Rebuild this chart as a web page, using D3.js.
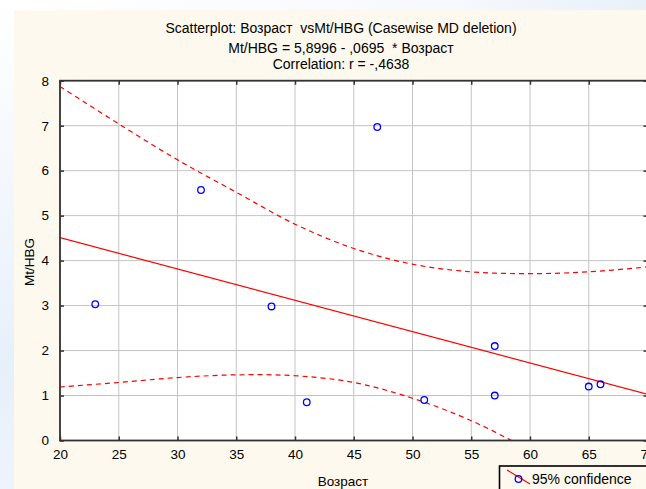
<!DOCTYPE html>
<html>
<head>
<meta charset="utf-8">
<script src="https://cdn.jsdelivr.net/npm/d3@7"></script>
<style>
  body { margin: 0; background: #ffffff; }
  svg { display: block; font-family: "Liberation Sans", Arial, sans-serif; }
  text.keep { white-space: pre; }
</style>
</head>
<body>
<script>
// data
const ages = [23, 32, 38, 41, 47, 51, 57, 57, 65, 66];
const mtHbg = [3.03, 5.57, 2.98, 0.85, 6.97, 0.90, 2.10, 1.00, 1.20, 1.25];

// fitted line end points
const fitX = [20, 70];
const fitY = [4.51, 1.03];

// 95% confidence band
const bandX = [20, 25, 30, 35, 40, 45, 50, 55, 60, 65, 70];
const upperCI = [7.87, 7.04, 6.24, 5.52, 4.81, 4.27, 3.92, 3.75, 3.71, 3.75, 3.86];
const lowerCI = [1.19, 1.29, 1.40, 1.46, 1.44, 1.29, 0.94, 0.44, -0.22, -0.95, -1.80];

const xTicks = [20, 25, 30, 35, 40, 45, 50, 55, 60, 65, 70];
const yTicks = [0, 1, 2, 3, 4, 5, 6, 7, 8];

const titleLines = [
  'Scatterplot: Возраст  vsMt/HBG (Casewise MD deletion)',
  'Mt/HBG = 5,8996 - ,0695  * Возраст',
  'Correlation: r = -,4638'
];

const W = 646, H = 489;
const svg = d3.select('body').append('svg')
    .attr('width', W)
    .attr('height', H);

// page background: soft blue strip on the left, cream panel
const defs = svg.append('defs');
const grad = defs.append('linearGradient')
    .attr('id', 'pageGrad')
    .attr('x1', 0).attr('y1', 0).attr('x2', 0).attr('y2', 1);
grad.append('stop').attr('offset', '0%').attr('stop-color', '#ffffff');
grad.append('stop').attr('offset', '45%').attr('stop-color', '#f1f6fc');
grad.append('stop').attr('offset', '75%').attr('stop-color', '#e6f0fa');
grad.append('stop').attr('offset', '100%').attr('stop-color', '#eef4fb');

const topGrad = defs.append('linearGradient')
    .attr('id', 'topGrad')
    .attr('x1', 0).attr('y1', 0).attr('x2', 1).attr('y2', 0);
topGrad.append('stop').attr('offset', '0%').attr('stop-color', '#ffffff');
topGrad.append('stop').attr('offset', '70%').attr('stop-color', '#f6f9fd');
topGrad.append('stop').attr('offset', '100%').attr('stop-color', '#e8f0fa');

svg.append('rect').attr('width', W).attr('height', H).attr('fill', 'url(#pageGrad)');
svg.append('rect').attr('x', 14).attr('width', W - 14).attr('height', 10).attr('fill', 'url(#topGrad)');
svg.append('rect')
    .attr('x', 14).attr('y', 10)
    .attr('width', W - 14).attr('height', H - 10)
    .attr('fill', '#fdf9ee');

const pLeft = 60, pRight = 647.5, pTop = 80.7, pBottom = 440.5;

const x = d3.scaleLinear().domain([20, 70]).range([pLeft, pRight]);
const y = d3.scaleLinear().domain([0, 8]).range([pBottom, pTop]);

// plot area
svg.append('rect')
    .attr('x', pLeft).attr('y', pTop)
    .attr('width', pRight - pLeft).attr('height', pBottom - pTop)
    .attr('fill', '#ffffff');

defs.append('clipPath').attr('id', 'plotClip')
  .append('rect')
    .attr('x', pLeft).attr('y', pTop)
    .attr('width', pRight - pLeft).attr('height', pBottom - pTop);

// grid
svg.append('g')
  .selectAll('line')
  .data(xTicks)
  .join('line')
    .attr('x1', d => x(d)).attr('x2', d => x(d))
    .attr('y1', pTop).attr('y2', pBottom)
    .attr('stroke', '#c4c4c4')
    .attr('stroke-width', 1);

svg.append('g')
  .selectAll('line')
  .data(yTicks)
  .join('line')
    .attr('x1', pLeft).attr('x2', pRight)
    .attr('y1', d => y(d)).attr('y2', d => y(d))
    .attr('stroke', '#c4c4c4')
    .attr('stroke-width', 1);

const plot = svg.append('g').attr('clip-path', 'url(#plotClip)');

// confidence band
const band = d3.line()
    .x(d => x(d[0]))
    .y(d => y(d[1]))
    .curve(d3.curveCatmullRom);

[upperCI, lowerCI].forEach(series => {
  plot.append('path')
      .datum(bandX.map((v, i) => [v, series[i]]))
      .attr('d', band)
      .attr('fill', 'none')
      .attr('stroke', '#ff0000')
      .attr('stroke-width', 1.2)
      .attr('stroke-dasharray', '5,4');
});

// fitted line
plot.append('path')
    .datum(fitX.map((v, i) => [v, fitY[i]]))
    .attr('d', d3.line().x(d => x(d[0])).y(d => y(d[1])))
    .attr('fill', 'none')
    .attr('stroke', '#ff0000')
    .attr('stroke-width', 1.2);

// points
plot.selectAll('circle')
  .data(ages.map((a, i) => [a, mtHbg[i]]))
  .join('circle')
    .attr('cx', d => x(d[0]))
    .attr('cy', d => y(d[1]))
    .attr('r', 3.3)
    .attr('fill', 'none')
    .attr('stroke', '#0000ff')
    .attr('stroke-width', 1.3);

// axes: ticks point inward, labels outside
const axisColor = '#333333';
const tickFont = 13.5;

svg.append('g')
    .attr('transform', `translate(0,${pBottom})`)
    .call(d3.axisBottom(x).tickValues(xTicks).tickSize(-4).tickPadding(9).tickFormat(d3.format('d')))
    .call(g => g.select('.domain').remove());

svg.append('g')
    .attr('transform', `translate(${pLeft},0)`)
    .call(d3.axisLeft(y).tickValues(yTicks).tickSize(-4).tickPadding(11).tickFormat(d3.format('d')))
    .call(g => g.select('.domain').remove());

svg.append('g')
    .attr('transform', `translate(0,${pTop})`)
    .call(d3.axisTop(x).tickValues(xTicks).tickSize(-4).tickFormat(''))
    .call(g => g.select('.domain').remove());

svg.append('g')
    .attr('transform', `translate(${pRight},0)`)
    .call(d3.axisRight(y).tickValues(yTicks).tickSize(-4).tickFormat(''))
    .call(g => g.select('.domain').remove());

svg.selectAll('.tick line').attr('stroke', axisColor).attr('stroke-width', 1.5);
svg.selectAll('.tick text')
    .attr('fill', '#000000')
    .style('font-size', tickFont + 'px')
    .style('font-family', '"Liberation Sans", Arial, sans-serif');

svg.append('rect')
    .attr('x', pLeft).attr('y', pTop)
    .attr('width', pRight - pLeft).attr('height', pBottom - pTop)
    .attr('fill', 'none')
    .attr('stroke', axisColor)
    .attr('stroke-width', 1.8);

// titles
svg.append('g')
  .selectAll('text')
  .data(titleLines)
  .join('text')
    .attr('class', 'keep')
    .attr('x', 341)
    .attr('y', (d, i) => [33, 52.5, 69][i])
    .attr('text-anchor', 'middle')
    .attr('font-size', 14)
    .attr('fill', '#000000')
    .text(d => d);

// axis titles
svg.append('text')
    .attr('x', 343)
    .attr('y', 486)
    .attr('text-anchor', 'middle')
    .attr('font-size', 13.5)
    .text('Возраст');

svg.append('text')
    .attr('transform', 'translate(34,262) rotate(-90)')
    .attr('text-anchor', 'middle')
    .attr('font-size', 13.5)
    .text('Mt/HBG');

// legend
const legend = svg.append('g');
legend.append('rect')
    .attr('x', 499.5).attr('y', 466)
    .attr('width', 170).attr('height', 34)
    .attr('fill', '#fdf9ee')
    .attr('stroke', '#000000')
    .attr('stroke-width', 1.6);
legend.append('line')
    .attr('x1', 507).attr('y1', 470)
    .attr('x2', 530).attr('y2', 484)
    .attr('stroke', '#ff0000')
    .attr('stroke-width', 1.2);
legend.append('circle')
    .attr('cx', 518.5).attr('cy', 479)
    .attr('r', 3.3)
    .attr('fill', 'none')
    .attr('stroke', '#0000ff')
    .attr('stroke-width', 1.3);
legend.append('text')
    .attr('x', 532).attr('y', 483.5)
    .attr('font-size', 14)
    .text('95% confidence');
</script>
</body>
</html>
